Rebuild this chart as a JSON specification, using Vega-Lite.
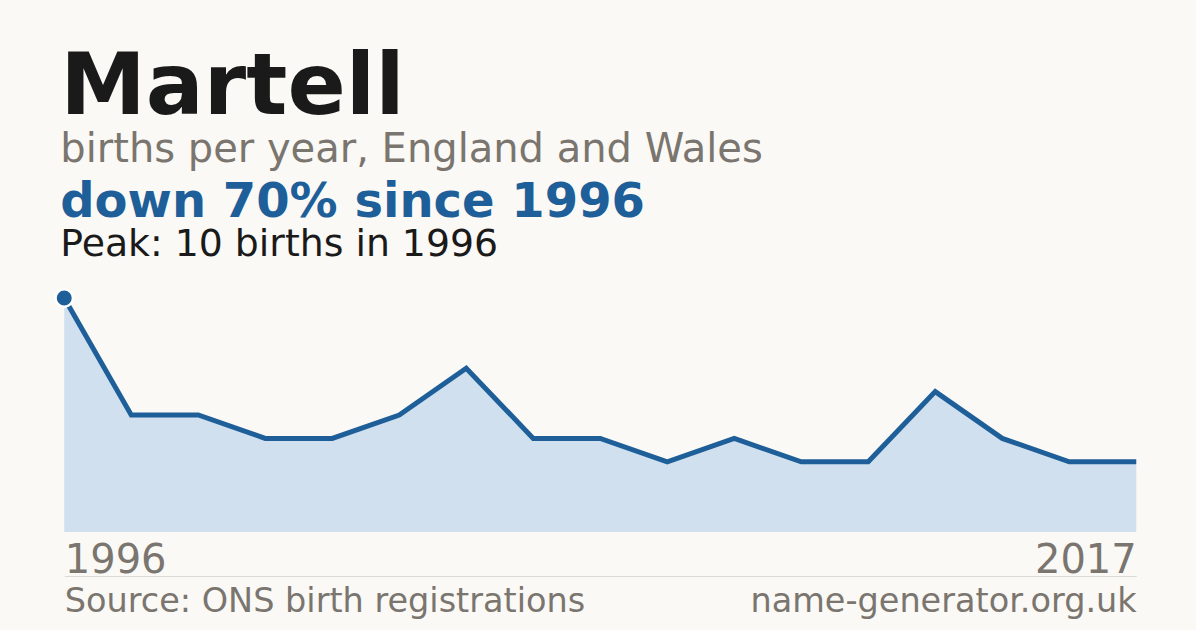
{
  "$schema": "https://vega.github.io/schema/vega-lite/v6.json",
  "background": "#faf9f5",
  "padding": {"left": 50.25, "right": 50, "top": 44, "bottom": 20},
  "title": {
    "text": "Martell",
    "subtitle": "births per year, England and Wales",
    "anchor": "start",
    "dx": 9.75,
    "fontSize": 86,
    "fontWeight": "bold",
    "color": "#1a1a1a",
    "subtitleFontSize": 40,
    "subtitleColor": "#7a756e",
    "subtitlePadding": -2,
    "offset": 8
  },
  "config": {
    "font": "DejaVu Sans",
    "view": {"stroke": null}
  },
  "vconcat": [
    {
      "width": 1072,
      "height": 234,
      "title": {
        "text": "down 70% since 1996",
        "subtitle": "Peak: 10 births in 1996",
        "anchor": "start",
        "dx": 9.75,
        "fontSize": 48,
        "fontWeight": "bold",
        "color": "#1f5f99",
        "subtitleFontSize": 37.8,
        "subtitleColor": "#1a1a1a",
        "subtitlePadding": -1,
        "offset": 20.7
      },
      "resolve": {"scale": {"x": "independent"}, "axis": {"x": "independent"}},
      "layer": [
        {
          "data": {
            "values": [
              {"year": "1996", "births": 10},
              {"year": "1997", "births": 5},
              {"year": "1998", "births": 5},
              {"year": "1999", "births": 4},
              {"year": "2000", "births": 4},
              {"year": "2001", "births": 5},
              {"year": "2002", "births": 7},
              {"year": "2004", "births": 4},
              {"year": "2005", "births": 4},
              {"year": "2006", "births": 3},
              {"year": "2007", "births": 4},
              {"year": "2009", "births": 3},
              {"year": "2010", "births": 3},
              {"year": "2012", "births": 6},
              {"year": "2013", "births": 4},
              {"year": "2015", "births": 3},
              {"year": "2017", "births": 3}
            ]
          },
          "encoding": {
            "x": {
              "field": "year",
              "type": "ordinal",
              "scale": {"type": "point", "padding": 0},
              "axis": {
                "orient": "bottom",
                "values": ["1996", "2017"],
                "title": null,
                "domain": false,
                "ticks": false,
                "grid": false,
                "labelAngle": 0,
                "labelFlush": true,
                "labelFontSize": 40,
                "labelColor": "#7a756e",
                "labelPadding": 8
              }
            },
            "y": {
              "field": "births",
              "type": "quantitative",
              "scale": {"domain": [0, 10], "nice": false},
              "axis": null
            }
          },
          "layer": [
            {"mark": {"type": "area", "color": "#d0e0ef", "opacity": 1}},
            {"mark": {"type": "line", "color": "#1f5f99", "strokeWidth": 5}},
            {
              "transform": [
                {"joinaggregate": [{"op": "max", "field": "births", "as": "peak"}]},
                {"filter": "datum.births == datum.peak"}
              ],
              "mark": {
                "type": "point",
                "filled": true,
                "color": "#1f5f99",
                "size": 306,
                "stroke": "#ffffff",
                "strokeWidth": 2.5,
                "opacity": 1
              }
            }
          ]
        },
        {
          "data": {
            "values": [
              {"year": "1996", "note": "Source: ONS birth registrations"},
              {"year": "2017", "note": "name-generator.org.uk"}
            ]
          },
          "mark": {"type": "point", "opacity": 0},
          "encoding": {
            "x": {
              "field": "note",
              "type": "ordinal",
              "sort": {"field": "year", "op": "min"},
              "scale": {"type": "point", "padding": 0},
              "axis": {
                "orient": "bottom",
                "offset": 44,
                "title": null,
                "domain": true,
                "domainColor": "#dcdad5",
                "domainWidth": 1,
                "ticks": false,
                "grid": false,
                "labelAngle": 0,
                "labelFlush": true,
                "labelLimit": 0,
                "labelFontSize": 33.5,
                "labelColor": "#7a756e",
                "labelPadding": 9.5
              }
            }
          }
        }
      ]
    }
  ]
}
